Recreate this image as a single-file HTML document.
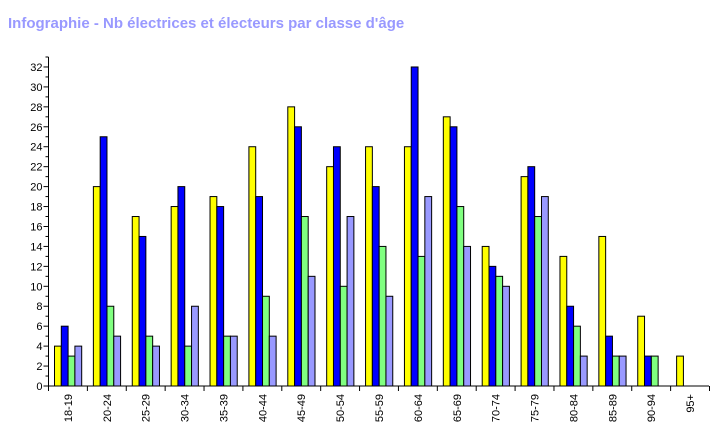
<!DOCTYPE html>
<html><head><meta charset="utf-8"><style>
body{margin:0;background:#fff;width:728px;height:429px;overflow:hidden;font-family:"Liberation Sans",sans-serif}
</style></head><body>
<svg id="c" width="728" height="429">
<text x="8" y="28" font-size="15" font-weight="bold" fill="#9999ff" font-family="Liberation Sans,sans-serif">Infographie - Nb électrices et électeurs par classe d'âge</text>
</svg>
<script>
const categories=["18-19","20-24","25-29","30-34","35-39","40-44","45-49","50-54","55-59","60-64","65-69","70-74","75-79","80-84","85-89","90-94","95+"];
const seriesYellow=[4,20,17,18,19,24,28,22,24,24,27,14,21,13,15,7,3];
const seriesBlue=[6,25,15,20,18,19,26,24,20,32,26,12,22,8,5,3,0];
const seriesGreen=[3,8,5,4,5,9,17,10,14,13,18,11,17,6,3,3,0];
const seriesLavender=[4,5,4,8,5,5,11,17,9,19,14,10,19,3,3,0,0];
const yTicks=[0,2,4,6,8,10,12,14,16,18,20,22,24,26,28,30,32];
const colors=["#ffff00","#0000ff","#80ff80","#9999ff"];
const NS="http://www.w3.org/2000/svg";
const svg=document.getElementById('c');
const x0=48.5,y0=386,yMax=33,plotH=329,catW=(709-48)/categories.length;
const Y=v=>y0-v/yMax*plotH;
const X=i=>x0+i*catW;
function mk(t,a){const e=document.createElementNS(NS,t);for(const k in a)e.setAttribute(k,a[k]);svg.appendChild(e);return e;}
const series=[seriesYellow,seriesBlue,seriesGreen,seriesLavender];
const bw=6.8;
categories.forEach((c,i)=>{
 series.forEach((s,j)=>{
  if(s[i]<=0)return;
  const r=mk('rect',{x:X(i)+6+j*bw,y:Y(s[i]),width:bw,height:y0-Y(s[i]),fill:colors[j],stroke:'#000','stroke-width':1});
  
  
 });
 const tk=mk('line',{x1:X(i),x2:X(i),y1:y0,y2:y0+5,stroke:'#000'});
 
 
 const tx=X(i)+catW/2+4,ty=y0+8;
 const t=mk('text',{x:tx,y:ty,'font-size':11,'text-anchor':'end',transform:`rotate(-90 ${tx} ${ty})`,fill:'#000'});
 t.textContent=c;
 
 
});
const lt=mk('line',{x1:X(categories.length),x2:X(categories.length),y1:y0,y2:y0+5,stroke:'#000'});


for(let v=0;v<=yMax;v++){
 const m=mk('line',{x1:x0-(v%2?3:5),x2:x0,y1:Y(v),y2:Y(v),stroke:'#000'});
 
 
}
yTicks.forEach(v=>{
 const t=mk('text',{x:x0-6,y:Y(v)+4,'font-size':11,'text-anchor':'end',fill:'#000'});
 t.textContent=v;
 
 
});
const ya=mk('line',{x1:x0,x2:x0,y1:Y(yMax),y2:y0,stroke:'#000'});


const xa=mk('line',{x1:x0,x2:709,y1:y0,y2:y0,stroke:'#000'});


</script>
</body></html>
